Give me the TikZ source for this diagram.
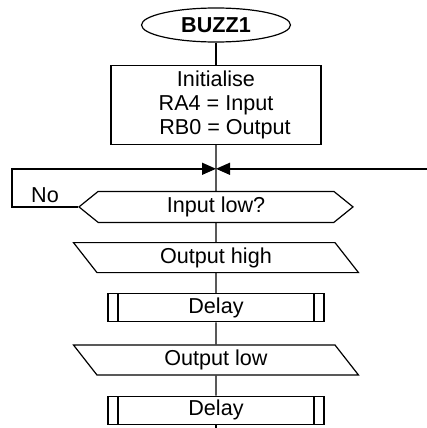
\documentclass[tikz,border=0pt]{standalone}
\usepackage{fontspec}
\setmainfont{Liberation Sans}
\usetikzlibrary{arrows.meta,positioning,shapes.geometric,shapes.symbols}
\newcommand{\flowfont}{\fontsize{10.8pt}{12pt}\selectfont}
\tikzset{
  >={Triangle[length=7pt,width=6pt]},
  terminal/.style={ellipse, draw, line width=0.6pt, minimum width=74.5pt,
    minimum height=17pt, inner sep=0pt, font=\flowfont\bfseries},
  box/.style={rectangle, draw, line width=0.6pt, minimum width=105pt,
    minimum height=39.5pt, align=center, inner sep=2pt},
  decision/.style={signal, signal to=west and east, signal pointer angle=78,
    draw, line width=0.6pt, minimum width=137pt, minimum height=15.5pt,
    inner sep=0pt},
  io/.style={trapezium, trapezium left angle=139.4, trapezium right angle=40.6,
    trapezium stretches body, draw, line width=0.6pt, minimum width=142.5pt,
    minimum height=15pt, inner sep=0pt},
  subproc/.style={rectangle, draw, line width=0.6pt, minimum width=108pt,
    minimum height=14pt, inner sep=0pt,
    path picture={
      \draw[line width=0.6pt]
        ([xshift=5pt]path picture bounding box.north west) --
        ([xshift=5pt]path picture bounding box.south west)
        ([xshift=-5pt]path picture bounding box.north east) --
        ([xshift=-5pt]path picture bounding box.south east);
    }},
  flow/.style={draw, line width=0.7pt},
  link/.style={draw, ->, line width=0.7pt}
}
\begin{document}
\begin{tikzpicture}[node distance=10pt, every node/.style={font=\flowfont}]
\useasboundingbox (0,0) rectangle (213.5pt,-214pt);

\node[terminal] (start) at (108pt,-12.5pt) {BUZZ1};
\node[box, below=11pt of start] (init) {Initialise\\RA4 = Input\\\hspace*{9pt}RB0 = Output};
\coordinate[below=12pt of init] (join);
\node[decision, below=23pt of init] (test) {Input low?};
\node[io, below=9.5pt of test] (high) {Output high};
\node[subproc, below=of high] (wait1) {Delay};
\node[io, below=11pt of wait1] (low) {Output low};
\node[subproc, below=of low] (wait2) {Delay};

\coordinate (entry) at (join -| 213.5pt,0);
\coordinate (loop) at (test.west -| 6pt,0);
\coordinate (exit) at (wait2.south |- 0,-214pt);

\draw[flow] (start) -- (init);
\draw[flow] (init)  -- (test);
\draw[link] (test.west) -- node[above, inner sep=1.5pt] {No} (loop) |- (join);
\draw[link] (entry) -- (join);
\draw[flow] (test)  -- (high);
\draw[flow] (high)  -- (wait1);
\draw[flow] (wait1) -- (low);
\draw[flow] (low)   -- (wait2);
\draw[flow] (wait2) -- (exit);

\end{tikzpicture}
\end{document}
